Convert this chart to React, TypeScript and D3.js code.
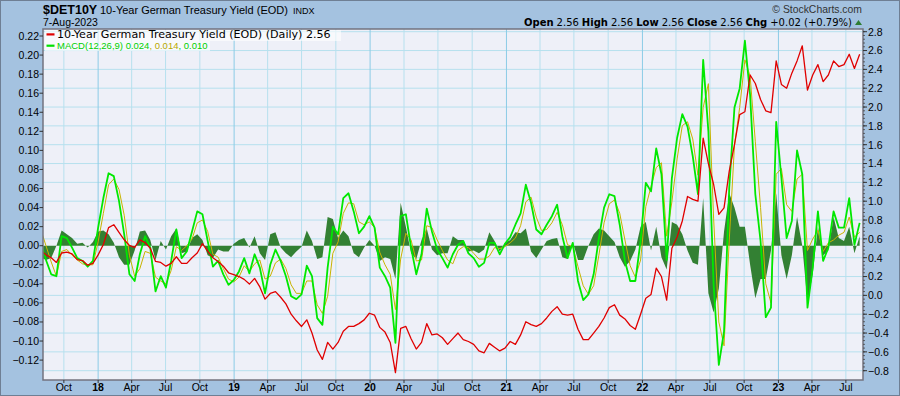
import { useEffect } from "react";
import * as d3 from "d3";

// sampled every 14 days, starting Mon 31-Jul-2017, last point 7-Aug-2023
const startDate = new Date(2017, 6, 31);
const stepDays = 14;

// 10-year German yield (right axis)
const yieldValues = [
  0.48, 0.43, 0.40, 0.35, 0.45, 0.46, 0.44, 0.38, 0.37, 0.32,
  0.34, 0.43, 0.54, 0.72, 0.75, 0.67, 0.59, 0.53, 0.51, 0.59,
  0.56, 0.50, 0.36, 0.35, 0.31, 0.34, 0.41, 0.34, 0.34, 0.40,
  0.45, 0.55, 0.47, 0.40, 0.36, 0.31, 0.24, 0.22, 0.20, 0.17,
  0.12, 0.18, 0.09, -0.04, 0.02, 0.04, -0.02, -0.09, -0.20, -0.27,
  -0.33, -0.26, -0.40, -0.58, -0.68, -0.50, -0.57, -0.50, -0.38, -0.33,
  -0.33, -0.30, -0.26, -0.19, -0.21, -0.34, -0.39, -0.50, -0.82, -0.35,
  -0.33, -0.46, -0.57, -0.50, -0.30, -0.42, -0.41, -0.45, -0.52, -0.46,
  -0.40, -0.47, -0.49, -0.52, -0.59, -0.61, -0.51, -0.55, -0.59, -0.56,
  -0.49, -0.52, -0.42, -0.28, -0.31, -0.33, -0.30, -0.24, -0.17, -0.12,
  -0.20, -0.21, -0.20, -0.36, -0.47, -0.47, -0.40, -0.33, -0.24, -0.13,
  -0.10, -0.21, -0.25, -0.32, -0.36, -0.20, -0.03, 0.01, 0.29, 0.20,
  -0.05, 0.50, 0.62, 0.79, 1.05, 1.02, 1.00, 1.67, 1.40, 1.18,
  0.86, 0.93, 1.32, 1.60, 1.92, 1.95, 2.34, 2.25, 2.08, 1.96,
  1.94, 2.49, 2.24, 2.20, 2.36, 2.49, 2.65, 2.18, 2.34, 2.45,
  2.27, 2.34, 2.49, 2.43, 2.45, 2.56, 2.41, 2.56,
];

// MACD(12,26,9) line (left axis)
const macdValues = [
  0.005, -0.015, -0.030, -0.032, 0.010, 0.008, -0.002, -0.013, -0.016, -0.022,
  -0.016, 0.019, 0.050, 0.076, 0.073, 0.047, 0.012, -0.030, -0.037, -0.009,
  0.010, -0.002, -0.048, -0.032, -0.044, -0.016, 0.017, -0.013, -0.006, 0.015,
  0.036, 0.033, 0.005, -0.022, -0.016, -0.030, -0.041, -0.036, -0.027, -0.013,
  -0.029, -0.009, -0.023, -0.050, -0.020, -0.004, -0.016, -0.032, -0.053, -0.056,
  -0.051, -0.021, -0.032, -0.076, -0.083, -0.023, 0.020, 0.012, 0.050, 0.055,
  0.036, 0.013, 0.020, 0.031, 0.019, -0.023, -0.032, -0.044, -0.102, 0.031,
  0.033, -0.002, -0.030, -0.009, 0.039, 0.015, -0.004, -0.013, -0.023, -0.009,
  0.001, 0.005, -0.008, -0.013, -0.022, -0.018, 0.003, 0.003, -0.009, 0.002,
  0.009, 0.022, 0.034, 0.064, 0.045, 0.017, 0.012, 0.022, 0.031, 0.043,
  0.010, -0.013, 0.003, -0.037, -0.057, -0.051, -0.030, 0.008, 0.040, 0.054,
  0.052, 0.022, -0.016, -0.037, -0.037, 0.005, 0.066, 0.057, 0.102, 0.075,
  -0.015, 0.071, 0.113, 0.138, 0.125, 0.094, 0.054, 0.195, 0.120, -0.041,
  -0.125, -0.090, 0.061, 0.145, 0.165, 0.215, 0.158, 0.054, 0.005, -0.075,
  -0.065, 0.130, 0.071, 0.008, 0.026, 0.100, 0.075, -0.065, -0.023, 0.036,
  -0.016, -0.002, 0.036, 0.019, 0.019, 0.050, 0.001, 0.024,
];

// signal line
const signalValues = [
  0.017, 0.000, -0.017, -0.032, -0.006, -0.004, -0.010, -0.015, -0.019, -0.020,
  -0.020, 0.004, 0.034, 0.064, 0.070, 0.059, 0.032, -0.010, -0.032, -0.024,
  -0.006, -0.008, -0.033, -0.037, -0.040, -0.026, -0.001, -0.005, 0.000, 0.007,
  0.024, 0.027, 0.015, -0.009, -0.012, -0.024, -0.035, -0.038, -0.033, -0.021,
  -0.027, -0.019, -0.015, -0.035, -0.032, -0.018, -0.014, -0.024, -0.041, -0.050,
  -0.050, -0.037, -0.037, -0.062, -0.071, -0.053, -0.008, 0.004, 0.034, 0.045,
  0.044, 0.025, 0.022, 0.025, 0.019, -0.007, -0.020, -0.030, -0.067, -0.014,
  0.013, 0.006, -0.016, -0.015, 0.021, 0.019, 0.006, -0.005, -0.015, -0.019,
  -0.005, -0.001, -0.002, -0.008, -0.014, -0.014, -0.011, -0.002, -0.003, -0.001,
  0.003, 0.008, 0.021, 0.046, 0.051, 0.030, 0.016, 0.017, 0.024, 0.035,
  0.022, 0.001, -0.001, -0.022, -0.042, -0.051, -0.042, -0.010, 0.024, 0.044,
  0.048, 0.034, 0.006, -0.021, -0.033, -0.015, 0.041, 0.062, 0.082, 0.087,
  0.010, 0.046, 0.091, 0.126, 0.130, 0.112, 0.074, 0.145, 0.170, 0.029,
  -0.080, -0.105, 0.006, 0.105, 0.145, 0.195, 0.178, 0.109, 0.040, -0.040,
  -0.060, 0.075, 0.081, 0.043, 0.036, 0.070, 0.075, -0.005, 0.007, 0.016,
  -0.006, 0.003, 0.006, 0.011, 0.014, 0.030, 0.009, 0.014,
];

// histogram
const histValues = [
  -0.012, -0.015, -0.013, 0.000, 0.016, 0.012, 0.008, 0.002, 0.003, -0.002,
  0.004, 0.015, 0.016, 0.012, 0.003, -0.012, -0.020, -0.020, -0.005, 0.015,
  0.016, 0.006, -0.015, 0.005, -0.004, 0.010, 0.018, -0.008, -0.006, 0.008,
  0.012, 0.006, -0.010, -0.013, -0.004, -0.006, -0.006, 0.002, 0.006, 0.008,
  -0.002, 0.010, -0.008, -0.015, 0.012, 0.014, -0.002, -0.008, -0.012, -0.006,
  -0.001, 0.016, 0.005, -0.014, -0.012, 0.030, 0.028, 0.008, 0.016, 0.010,
  -0.008, -0.012, -0.002, 0.006, 0.000, -0.016, -0.012, -0.014, -0.035, 0.045,
  0.020, -0.008, -0.014, 0.006, 0.018, -0.004, -0.010, -0.008, -0.008, 0.010,
  0.006, 0.006, -0.006, -0.005, -0.008, -0.004, 0.014, 0.005, -0.006, 0.003,
  0.006, 0.014, 0.013, 0.018, -0.006, -0.013, -0.004, 0.005, 0.007, 0.008,
  -0.012, -0.014, 0.004, -0.015, -0.015, 0.000, 0.012, 0.018, 0.016, 0.010,
  0.004, -0.012, -0.022, -0.016, -0.004, 0.020, 0.025, -0.005, 0.020, -0.012,
  -0.025, 0.025, 0.022, 0.012, -0.005, -0.018, -0.020, 0.050, -0.050, -0.070,
  -0.045, 0.015, 0.055, 0.040, 0.020, 0.020, -0.020, -0.055, -0.035, -0.035,
  -0.005, 0.055, -0.010, -0.035, -0.010, 0.030, 0.000, -0.060, -0.030, 0.020,
  -0.010, -0.005, 0.030, 0.008, 0.005, 0.020, -0.008, 0.010,
];

const leftTicks = [0.22, 0.2, 0.18, 0.16, 0.14, 0.12, 0.1, 0.08, 0.06, 0.04, 0.02, 0, -0.02, -0.04, -0.06, -0.08, -0.1, -0.12];
const rightTicks = [2.8, 2.6, 2.4, 2.2, 2.0, 1.8, 1.6, 1.4, 1.2, 1.0, 0.8, 0.6, 0.4, 0.2, 0, -0.2, -0.4, -0.6, -0.8];
const monthLabels: Record<number, string> = { 3: "Apr", 6: "Jul", 9: "Oct" };

const quote = [
  ["Open", "2.56"],
  ["High", "2.56"],
  ["Low", "2.56"],
  ["Close", "2.56"],
  ["Chg", "+0.02 (+0.79%)"],
];

const W = 900;
const H = 396;
const plot = { left: 43, right: 863, top: 29, bottom: 380 };
const font = "'Liberation Sans', Arial, sans-serif";
const wideFont = "'DejaVu Sans', Verdana, sans-serif";

export default function App() {
  useEffect(() => {
    document.body.style.margin = "0";
  }, []);

  const dates = yieldValues.map((_, i) => d3.timeDay.offset(startDate, i * stepDays));

  const x = d3
    .scaleTime()
    .domain([new Date(2017, 7, 6), new Date(2023, 7, 16)])
    .range([plot.left, plot.right]);
  const yPrice = d3.scaleLinear().domain([-0.8, 2.8]).range([370.7, 31.7]);
  const yMacd = d3.scaleLinear().domain([-0.12, 0.22]).range([360.1, 36]);

  const quarters = d3.timeMonth.every(3)!.range(x.domain()[0], x.domain()[1]);
  const minorRight = d3.range(-0.8, 2.8001, 0.04);

  const line = (vals: number[], y: d3.ScaleLinear<number, number>) =>
    d3
      .line<number>()
      .x((_, i) => x(dates[i]))
      .y((v) => y(v))(vals) ?? "";

  const histPath =
    d3
      .area<number>()
      .x((_, i) => x(dates[i]))
      .y0(yMacd(0))
      .y1((v) => yMacd(v))(histValues) ?? "";

  return (
    <svg
      width={W}
      height={H}
      style={{ display: "block", position: "absolute", left: 0, top: 0 }}
      fontFamily={font}
    >
      <defs>
        <clipPath id="plotClip">
          <rect x={plot.left} y={plot.top} width={plot.right - plot.left} height={plot.bottom - plot.top} />
        </clipPath>
      </defs>

      <rect x={0} y={0} width={W} height={H} fill="#a4c2e0" />
      <rect x={0.5} y={0.5} width={W - 1} height={H - 1} fill="none" stroke="#6f7f94" />

      {/* header */}
      <text x={43} y={13.5} fontSize={12.5} fontWeight="bold" fill="#000">$DET10Y</text>
      <text x={100} y={13.5} fontSize={11} fill="#000">10-Year German Treasury Yield (EOD)</text>
      <text x={293} y={13.5} fontSize={9} fill="#000">INDX</text>
      <text x={43} y={25.5} fontSize={10.5} fill="#000">7-Aug-2023</text>
      <text x={862} y={12.5} fontSize={10.4} fill="#333" textAnchor="end">© StockCharts.com</text>
      <text x={852} y={25.7} fontSize={10} fontFamily={wideFont} fill="#000" textAnchor="end">
        {quote.map(([k, v], i) => (
          <tspan key={k}>
            <tspan fontWeight="bold" dx={i > 0 ? 3 : 0}>{k}</tspan>
            <tspan dx={3}>{v}</tspan>
          </tspan>
        ))}
      </text>
      <path d="M855,25 L858.5,20 L862,25 Z" fill="#2e7d32" />

      {/* plot area */}
      <rect x={plot.left} y={plot.top} width={plot.right - plot.left} height={plot.bottom - plot.top} fill="#eef0f8" />

      {rightTicks.map((t) => (
        <line key={"hg" + t} x1={plot.left} x2={plot.right} y1={yPrice(t)} y2={yPrice(t)} stroke="#b6e0ee" strokeWidth={1} />
      ))}
      {quarters.map((d) => (
        <line
          key={"vg" + d.getTime()}
          x1={x(d)}
          x2={x(d)}
          y1={plot.top}
          y2={plot.bottom}
          stroke={d.getMonth() === 0 ? "#8ccbe6" : "#b6e0ee"}
          strokeWidth={1}
        />
      ))}

      <g clipPath="url(#plotClip)">
        <path d={histPath} fill="#338033" />
        <path d={line(signalValues, yMacd)} fill="none" stroke="#c8b400" strokeWidth={1} />
        <path d={line(macdValues, yMacd)} fill="none" stroke="#00e800" strokeWidth={1.8} strokeLinejoin="round" />
        <path d={line(yieldValues, yPrice)} fill="none" stroke="#e00000" strokeWidth={1.3} strokeLinejoin="round" />
      </g>

      {/* legend */}
      <rect x={45} y={30} width={296} height={11} fill="#ffffff" fillOpacity={0.6} />
      <rect x={45} y={41} width={165} height={10} fill="#ffffff" fillOpacity={0.6} />
      <rect x={46.5} y={33.3} width={8} height={2.2} fill="#e00000" />
      <text x={57} y={37.8} fontSize={11.1} fontFamily={wideFont} fill="#000">
        10-Year German Treasury Yield (EOD) (Daily) 2.56
      </text>
      <rect x={46.5} y={44.6} width={8} height={2.2} fill="#00e000" />
      <text x={57} y={49.4} fontSize={9.5}>
        <tspan fill="#00d000">MACD(12,26,9) 0.024</tspan>
        <tspan fill="#b8a800">, 0.014</tspan>
        <tspan fill="#00d000">, 0.010</tspan>
      </text>

      <rect
        x={plot.left}
        y={plot.top}
        width={plot.right - plot.left}
        height={plot.bottom - plot.top}
        fill="none"
        stroke="#73737f"
        strokeWidth={1.5}
      />

      {/* left axis (MACD) */}
      {leftTicks.map((t) => (
        <g key={"lt" + t}>
          <line x1={plot.left - 3.5} x2={plot.left} y1={yMacd(t)} y2={yMacd(t)} stroke="#333" />
          <text x={plot.left - 4} y={yMacd(t) + 3.5} fontSize={10.5} textAnchor="end" fill="#000">
            {d3.format(".2f")(t)}
          </text>
        </g>
      ))}

      {/* right axis (yield) */}
      {minorRight.map((t) => (
        <line key={"mr" + t} x1={plot.right} x2={plot.right + 2} y1={yPrice(t)} y2={yPrice(t)} stroke="#444" strokeWidth={0.8} />
      ))}
      {rightTicks.map((t) => (
        <g key={"rt" + t}>
          <line x1={plot.right} x2={plot.right + 4} y1={yPrice(t)} y2={yPrice(t)} stroke="#333" />
          <text x={plot.right + 5} y={yPrice(t) + 3.8} fontSize={10.5} fill="#000">
            {d3.format(".1f")(t)}
          </text>
        </g>
      ))}

      {/* bottom axis */}
      {quarters.map((d) => {
        const isYear = d.getMonth() === 0;
        return (
          <g key={"bt" + d.getTime()}>
            <line x1={x(d)} x2={x(d)} y1={plot.bottom} y2={plot.bottom + 3} stroke="#333" />
            <text
              x={x(d)}
              y={390.5}
              fontSize={10.5}
              fontWeight={isYear ? "bold" : "normal"}
              textAnchor="middle"
              fill="#000"
            >
              {isYear ? d3.timeFormat("%y")(d) : monthLabels[d.getMonth()]}
            </text>
          </g>
        );
      })}
    </svg>
  );
}
